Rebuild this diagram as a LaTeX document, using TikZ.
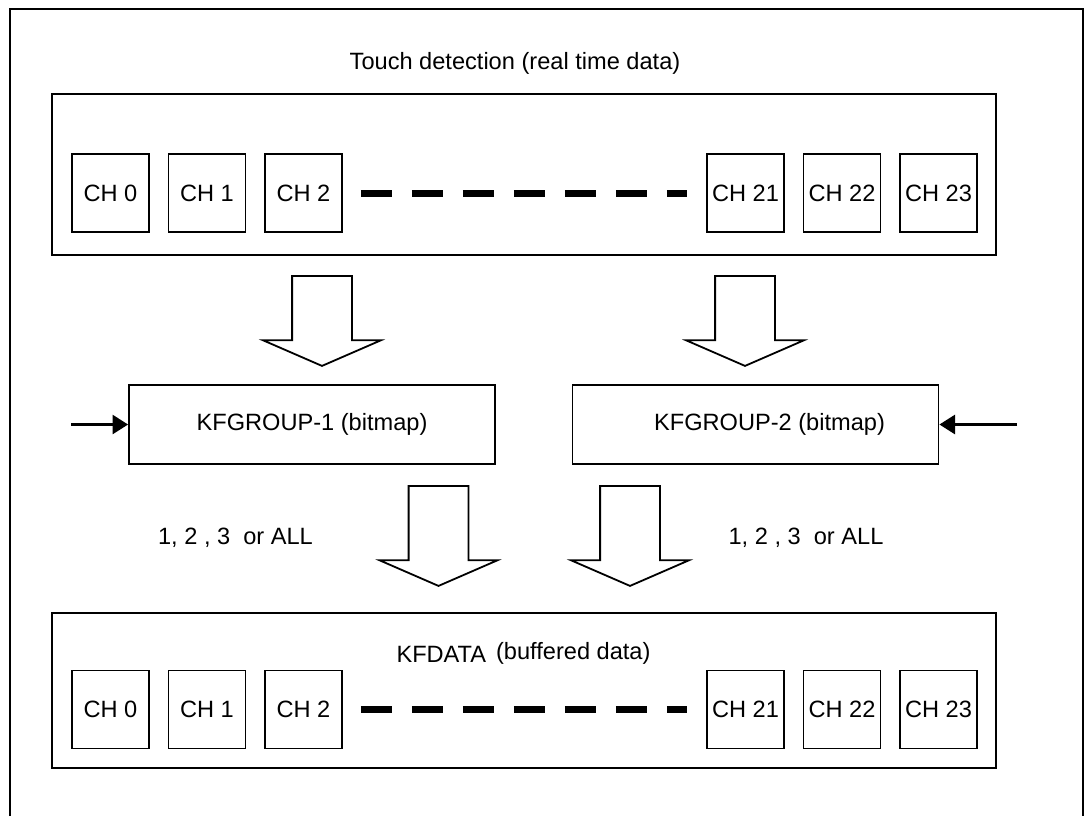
\documentclass[tikz,border=0pt]{standalone}
\usepackage{fontspec}
\setmainfont{Liberation Sans}
\usetikzlibrary{positioning,shapes.arrows,arrows.meta}
\tikzstyle{cadre}=[rectangle,draw,line width=1pt,minimum width=472pt,inner sep=0pt]
\tikzstyle{canal}=[rectangle,draw,line width=0.75pt,minimum width=38.5pt,minimum height=39pt,inner sep=0pt]
\tikzstyle{groupe}=[rectangle,draw,line width=0.9pt,minimum width=183pt,minimum height=39.5pt,inner sep=0pt]
\tikzstyle{fleche}=[single arrow,draw,line width=0.9pt,rotate=-90,inner xsep=0pt,inner ysep=14.5pt,single arrow head extend=14.5pt,single arrow tip angle=133]
\tikzstyle{tirets}=[line width=3.5pt,dash pattern=on 15.5pt off 10pt,shorten <=9pt,shorten >=9.5pt]
\tikzstyle{entree}=[-{Triangle[length=7.8pt,width=9.5pt]},line width=1.4pt]

\begin{document}
\begin{tikzpicture}[x=0.5pt,y=-0.5pt,font=\fontsize{11.8pt}{14pt}\selectfont]
\useasboundingbox (0,0) rectangle (1086,816);
\draw[line width=1.35pt] (10,816) -- (10,9) -- (1083,9) -- (1083,816);

\node (titre) at (515,63) {Touch detection (real time data)};
\node[cadre,minimum height=80.5pt] (R0) at (524,174.5) {};
\node[canal] (T00) at (110.5,193) {CH 0};
\node[canal] (T01) [right =9pt of T00] {CH 1};
\node[canal] (T02) [right =9pt of T01] {CH 2};
\node[canal] (T21) at (745.5,193) {CH 21};
\node[canal] (T22) [right =9pt of T21] {CH 22};
\node[canal] (T23) [right =9pt of T22] {CH 23};
\draw[tirets] (T02) -- (T21);

\node[fleche,minimum height=45pt,anchor=tail] (F1) at (322,275) {};
\node[fleche,minimum height=45pt,anchor=tail] (F2) at (745,275) {};

\node[groupe] (G1) at (312,424.5) {KFGROUP-1 (bitmap)};
\node[groupe] (G2) at (755.5,424.5) {\hspace{14pt}KFGROUP-2 (bitmap)\hspace{-14pt}};
\coordinate (E1) at (71,424.5);
\coordinate (E2) at (1017,424.5);
\draw[entree] (E1) -- (G1.west);
\draw[entree] (E2) -- (G2.east);

\node[fleche,minimum height=50pt,anchor=tail] (F3) at (438.5,485) {};
\node[fleche,minimum height=50pt,anchor=tail] (F4) at (630,485) {};
\node (choix1) at (235.5,538) {1, 2 , 3~~or ALL};
\node (choix2) at (806,538) {1, 2 , 3~~or ALL};

\node[cadre,line width=1.2pt,minimum height=77.5pt] (R1) at (524,690.5) {};
\node (kfdata) at (523.5,653) {KFDATA\hspace{5pt}\raisebox{1.5pt}{(buffered data)}};
\node[canal] (B00) at (110.5,709.5) {CH 0};
\node[canal] (B01) [right =9pt of B00] {CH 1};
\node[canal] (B02) [right =9pt of B01] {CH 2};
\node[canal] (B21) at (745.5,709.5) {CH 21};
\node[canal] (B22) [right =9pt of B21] {CH 22};
\node[canal] (B23) [right =9pt of B22] {CH 23};
\draw[tirets] (B02) -- (B21);

\end{tikzpicture}
\end{document}
